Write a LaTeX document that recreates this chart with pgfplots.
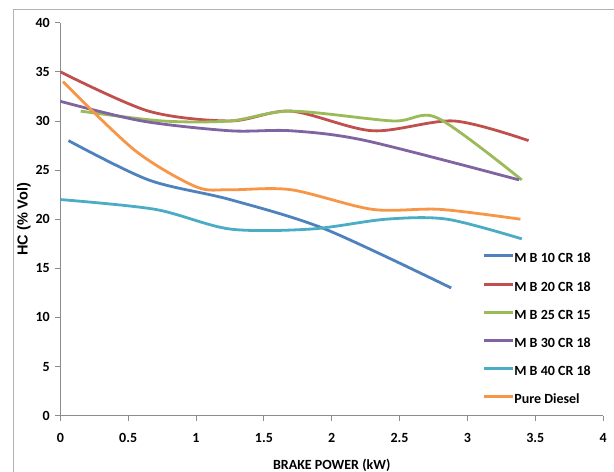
\documentclass[border=0pt]{standalone}
\usepackage{fontspec}
\setmainfont{Carlito}
\newfontfamily\arialb{Liberation Sans}
\usepackage{pgfplots}
\pgfplotsset{compat=1.18}
\definecolor{cB}{HTML}{4F81BD}
\definecolor{cR}{HTML}{C0504D}
\definecolor{cG}{HTML}{9BBB59}
\definecolor{cP}{HTML}{8064A2}
\definecolor{cC}{HTML}{4BACC6}
\definecolor{cO}{HTML}{F79646}
\begin{document}
\begin{tikzpicture}
\path[use as bounding box] (0,0) rectangle (614bp,472bp);
\draw[black!30, line width=0.8bp] (13bp,-5bp) |- (630bp,463bp);
\begin{axis}[
  at={(60.3bp,56.3bp)}, anchor=south west,
  scale only axis, width=542.9bp, height=393bp,
  xmin=0, xmax=4, ymin=0, ymax=40,
  xtick={0,0.5,...,4}, ytick={0,5,...,40},
  axis lines*=left,
  axis line style={black!45, line width=0.8bp, -},
  tick style={black!45, line width=0.8bp},
  tick align=outside, major tick length=5bp,
  /pgf/number format/assume math mode=true,
  ticklabel style={font=\fontsize{14bp}{16bp}\selectfont\bfseries},
  xticklabel style={yshift=-9bp},
  yticklabel style={xshift=-2bp},
  xlabel={BRAKE POWER (kW)},
  xlabel style={at={(axis description cs:0.5,0)}, anchor=center, yshift=-50bp, font=\fontsize{14bp}{16bp}\selectfont\bfseries},
  ylabel={HC (\% Vol)},
  ylabel style={at={(axis description cs:-0.0669,0.5)}, anchor=center, font=\arialb\fontsize{14.5bp}{16bp}\selectfont\bfseries},
  legend style={at={(rel axis cs:0.777,0.415)}, anchor=north west, draw=none, fill=none, inner sep=0pt,
    row sep=15.2bp, font=\fontsize{14bp}{16bp}\selectfont\bfseries,
    nodes={text height=10bp, text depth=3bp, inner sep=0pt}},
  legend cell align=left,
  legend image code/.code={\draw[#1, line width=3bp] (0bp,3.5bp) -- (29bp,3.5bp);},
  every axis plot/.append style={line width=2.8bp, smooth, tension=0.5},
]
\addplot[cB] coordinates {(0.06,28) (0.65,24) (1.25,22) (1.95,19) (2.88,13)};
\addlegendentry{M B 10 CR 18}
\addplot[cR] coordinates {(0,35) (0.65,31) (1.25,30) (1.7,31) (2.3,29) (2.9,30) (3.45,28)};
\addlegendentry{M B 20 CR 18}
\addplot[cG] coordinates {(0.15,31) (0.75,30) (1.25,30) (1.7,31) (2.45,30) (2.78,30.3) (3.4,24)};
\addlegendentry{M B 25 CR 15}
\addplot[cP] coordinates {(0,32) (0.6,30) (1.25,29) (1.7,29) (2.25,28) (3.38,24)};
\addlegendentry{M B 30 CR 18}
\addplot[cC] coordinates {(0,22) (0.7,21) (1.25,19) (1.85,19) (2.4,20) (2.85,20) (3.4,18)};
\addlegendentry{M B 40 CR 18}
\addplot[cO] coordinates {(0.02,34) (0.55,27) (1.0,23.3) (1.25,23) (1.7,23) (2.3,21) (2.8,21) (3.39,20)};
\addlegendentry{Pure Diesel}
\end{axis}
\end{tikzpicture}
\end{document}
